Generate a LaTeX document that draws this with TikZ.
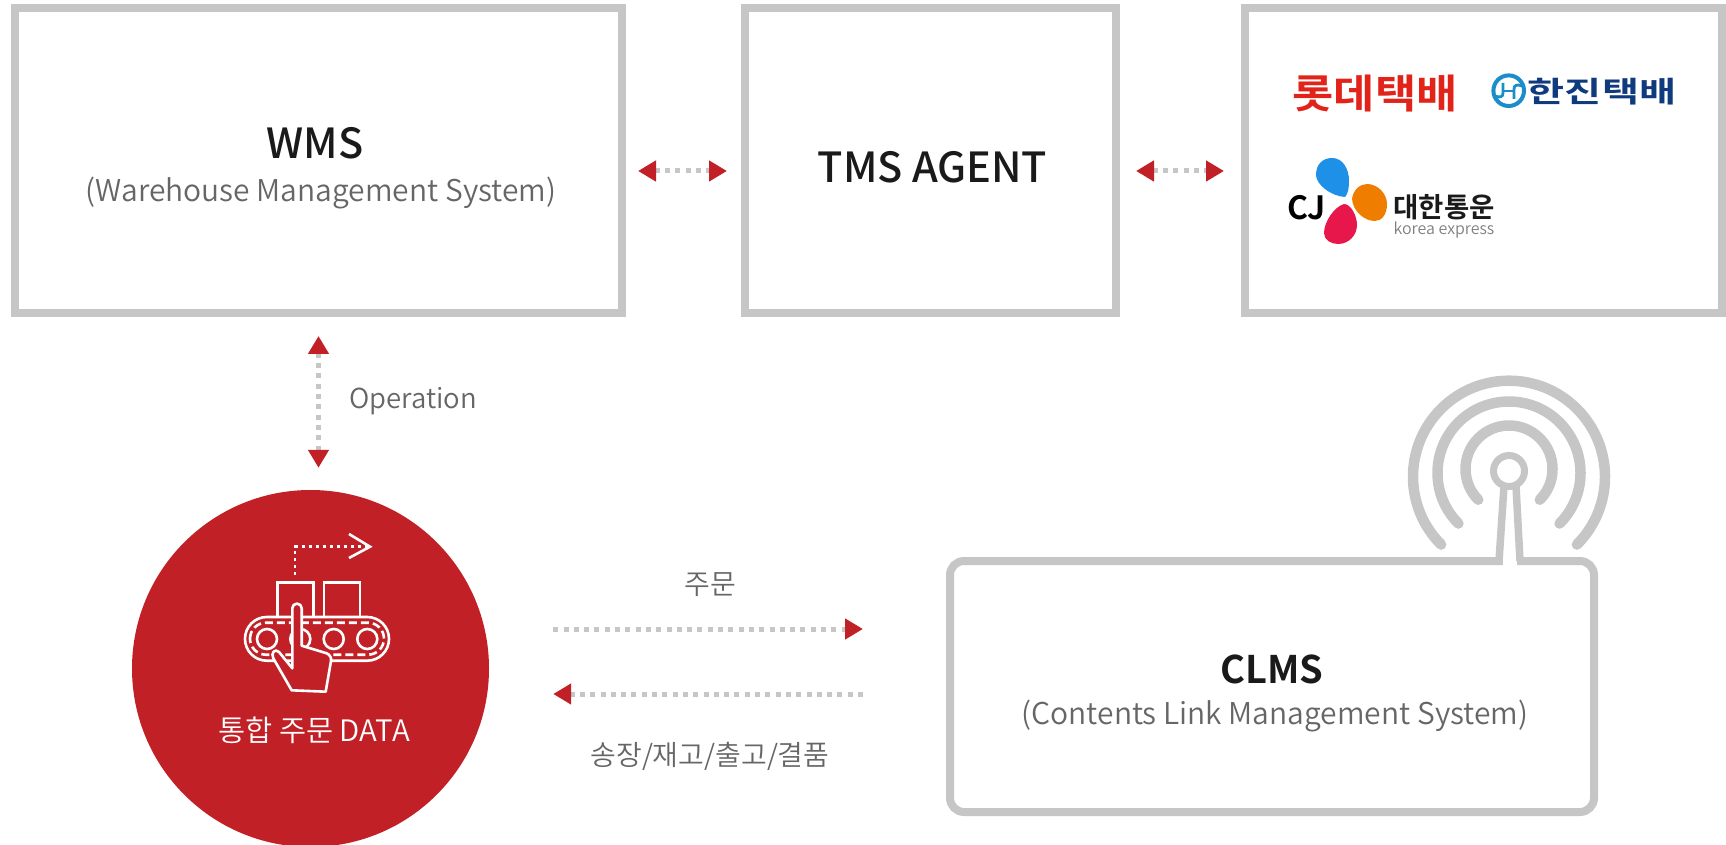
\documentclass[tikz,border=0pt]{standalone}
\usepackage{fontspec}
\usetikzlibrary{arrows.meta}
\setmainfont{Noto Sans CJK KR DemiLight}
\newfontfamily\krmed{Noto Sans CJK KR Medium}
\newfontfamily\krbold{Noto Sans CJK KR Bold}
\definecolor{crred}{HTML}{C12126}
\definecolor{ln}{HTML}{C6C6C6}
\definecolor{txt}{HTML}{1A1A1A}
\definecolor{subt}{HTML}{666666}
\definecolor{lottered}{HTML}{E2231A}
\definecolor{hjnavy}{HTML}{0F3A7D}
\definecolor{hjblue}{HTML}{1B8DC9}
\definecolor{cjblue}{HTML}{1E90E8}
\definecolor{cjorange}{HTML}{EE7D00}
\definecolor{cjred}{HTML}{E8174B}
\begin{document}
\begin{tikzpicture}[x=1pt, y=1pt]
	\tikzset{box/.style={draw=ln, line width=8pt, minimum width=#1, inner sep=0pt, fill=white}};
	\tikzset{ttl/.style={text=txt, inner sep=0pt, font=\krmed\fontsize{41.5}{48}\selectfont}};
	\tikzset{subl/.style={text=subt, inner sep=0pt, font=\fontsize{30}{38}\selectfont}};
	\tikzset{lnk/.style={draw=ln, line width=5pt, dash pattern=on 5pt off 5.3pt, arrows={Triangle[length=18pt, width=20pt, color=crred]-Triangle[length=18pt, width=20pt, color=crred]}}};
	\tikzset{ico/.style={draw=white, line width=2.6pt}};
	\tikzset{sig/.style={draw=ln, line width=10.5pt, line cap=round}};

	\useasboundingbox (0, 0) rectangle (1726, 844);

	\node[box=607pt, minimum height=305pt] (wms) at (318.5, 683.5) {};
	\node[box=371pt, minimum height=305pt] (tms) at (930.5, 683.5) {};
	\node[box=477pt, minimum height=305pt] (carrier) at (1483.5, 683.5) {};
	\node[box=644pt, minimum height=251pt, rounded corners=14pt] (clms) at (1272, 157.5) {};
	\node[circle, fill=crred, minimum size=357pt, inner sep=0pt] (core) at (310.5, 175.5) {};

	\node[ttl] (wmsname) at (315, 701) {WMS};
	\node[subl] (wmssub) at (321, 650.5) {(Warehouse Management System)};
	\node[ttl] (tmsname) at (932.5, 676.5) {TMS AGENT};
	\node[ttl, font=\krbold\fontsize{38}{48}\selectfont] (clmsname) at (1272, 175) {CLMS};
	\node[subl] (clmssub) at (1275, 127.5) {(Contents Link Management System)};
	\node[subl, font=\fontsize{27.5}{36}\selectfont] (oplabel) at (413, 442.5) {Operation};
	\node[subl, font=\fontsize{28}{36}\selectfont] (orderlabel) at (710, 259) {주문};
	\node[subl, font=\fontsize{28}{36}\selectfont] (replylabel) at (710, 88) {송장/재고/출고/결품};
	\node[inner sep=0pt, text=white, font=\fontsize{29.5}{36}\selectfont] (corelabel) at (314, 114) {통합 주문 DATA};

	\draw[lnk, shorten <=12pt, shorten >=14pt] ([yshift=-10.5pt]wms.east) to ([yshift=-10.5pt]tms.west);
	\draw[lnk, shorten <=16pt, shorten >=17pt] ([yshift=-10.5pt]tms.east) to ([yshift=-10.5pt]carrier.west);
	\draw[lnk, shorten <=19pt, shorten >=22pt] (wms.south) to (wms.south |- core.north);
	\draw[lnk, arrows={-Triangle[length=18pt, width=20pt, color=crred]}, shorten <=64pt, shorten >=83pt] ([yshift=39.5pt]core.east) to ([yshift=57.5pt]clms.west);
	\draw[lnk, arrows={-Triangle[length=18pt, width=20pt, color=crred]}, shorten <=83pt, shorten >=64pt] ([yshift=-7.5pt]clms.west) to ([yshift=-25.5pt]core.east);

	% antenna
	\fill[white] (1503, 275) rectangle (1516.5, 290);
	\draw[draw=ln, line width=7.5pt] (1499, 283) to (1504, 358);
	\draw[draw=ln, line width=7.5pt] (1520, 283) to (1516, 358);
	\draw[draw=ln, line width=7pt] (1509, 373) circle[radius=15.5pt];
	\draw[sig] (1509, 375) ++(225:43.5pt) arc[start angle=225, end angle=-45, radius=43.5pt];
	\draw[sig] (1509, 371) ++(225:71.5pt) arc[start angle=225, end angle=-45, radius=71.5pt];
	\draw[sig] (1509, 367.3) ++(225:96pt) arc[start angle=225, end angle=-45, radius=96pt];

	% conveyor icon
	\draw[ico, dash pattern=on 3pt off 4pt] (295, 269) to (295, 297.3) to (368, 297.3);
	\draw[ico] (349, 310) to (370, 297.3) to (349, 286);
	\draw[ico] (277.7, 227) to (277.7, 261.7) to (313.7, 261.7) to (313.7, 227);
	\draw[ico] (324, 227) to (324, 261.7) to (360, 261.7) to (360, 227);
	\draw[ico, rounded corners=21.8pt] (245, 183.3) rectangle (389, 227);
	\draw[ico, dash pattern=on 8pt off 4pt, rounded corners=16pt] (250, 189.3) rectangle (384, 221.3);
	\draw[ico] (267, 205) circle[radius=10pt];
	\draw[ico] (300.3, 205) circle[radius=10pt];
	\draw[ico] (333.7, 205) circle[radius=10pt];
	\draw[ico] (367.3, 205) circle[radius=10pt];
	\draw[ico, fill=crred, line join=round] (292.3, 175.7) -- (292.3, 235.7) arc[start angle=180, end angle=0, radius=4.7pt] -- (301.7, 198.3) -- (326.7, 190.7) .. controls (330, 189) and (331.5, 186.5) .. (331, 183) -- (325.7, 152.3) -- (291.7, 153.7) -- (273.3, 185.7) .. controls (270.5, 191) and (275, 196) .. (279, 192) -- cycle;

	% carrier logos
	\node[inner sep=0pt, text=lottered, font=\krbold\fontsize{40}{48}\selectfont] (lotte) at (1375, 750) {\scalebox{1.12}[1]{롯데택배}};
	\draw[draw=hjblue, line width=4pt] (1508.7, 753.3) circle[radius=15.3pt];
	\draw[draw=hjblue, line width=2.8pt] (1495, 748) .. controls (1500, 746) and (1503, 747) .. (1503, 751) to (1503, 761);
	\draw[draw=hjblue, line width=2.8pt] (1522, 758) .. controls (1517, 760) and (1514, 759) .. (1514, 755) to (1514, 745);
	\draw[draw=hjblue, line width=2.8pt] (1503, 753) to (1514, 753);
	\node[inner sep=0pt, text=hjnavy, font=\krbold\fontsize{29}{36}\selectfont] (hanjin) at (1602, 752.5) {\scalebox{1.39}[1]{한진택배}};
	\fill[cjblue] (1345, 647) .. controls (1330, 648) and (1316, 660) .. (1316, 669) .. controls (1316, 680) and (1323, 686) .. (1332, 686) .. controls (1343, 686) and (1349, 675) .. (1349, 663) .. controls (1349, 656) and (1348, 650) .. (1345, 647) -- cycle;
	\fill[cjorange] (1352, 645) .. controls (1353, 654) and (1360, 660) .. (1367, 660) .. controls (1378, 660) and (1387, 650) .. (1387, 640) .. controls (1387, 630) and (1382, 623) .. (1375, 623) .. controls (1364, 623) and (1353, 633) .. (1352, 645) -- cycle;
	\fill[cjred] (1344, 640) .. controls (1334, 637) and (1324, 622) .. (1324, 611) .. controls (1324, 604) and (1331, 600) .. (1338, 600) .. controls (1349, 600) and (1357, 609) .. (1357, 619) .. controls (1357, 628) and (1351, 640) .. (1344, 640) -- cycle;
	\node[inner sep=0pt, text=black, font=\krbold\fontsize{32}{36}\selectfont] (cjname) at (1306.5, 636) {CJ};
	\node[inner sep=0pt, text=txt, font=\krbold\fontsize{27.5}{30}\selectfont] (cjkr) at (1444, 637) {대한통운};
	\node[inner sep=0pt, text=gray, font=\fontsize{16}{20}\selectfont] (cjen) at (1444, 614) {korea express};
\end{tikzpicture}
\end{document}
